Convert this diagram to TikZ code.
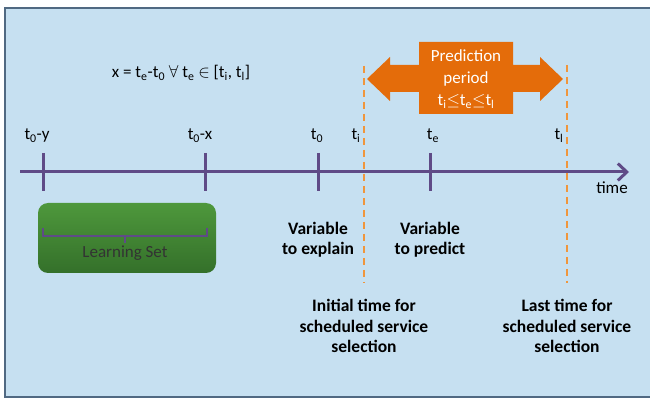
\documentclass[tikz,border=0pt]{standalone}
\usepackage{fontspec}
\setmainfont{Carlito}
\usetikzlibrary{arrows.meta,positioning,shadings}
\definecolor{panel}{RGB}{198,224,241}
\definecolor{framecol}{RGB}{80,105,130}
\definecolor{axiscol}{RGB}{95,75,135}
\definecolor{periodcol}{RGB}{228,108,10}
\definecolor{limitcol}{RGB}{240,150,60}
\definecolor{setgreen}{RGB}{78,152,60}
\definecolor{setdark}{RGB}{52,112,42}
\tikzset{x=1pt, y=1pt, % one unit is one pixel of the picture
timeline/.style={line width=3pt, draw=axiscol, -{Straight Barb[length=9pt,width=17pt]}}, % the time axis
tickmark/.style={line width=3pt, draw=axiscol}, % marks on the axis
limitline/.style={line width=2pt, draw=limitcol, dash pattern=on 7pt off 5pt}, % borders of the prediction period
lbl/.style={inner sep=0pt, font=\fontsize{17}{20.5}\selectfont}, % plain text
note/.style={inner sep=0pt, align=center, font=\fontsize{17.5}{20.5}\selectfont\bfseries}, % bold captions
}
\begin{document}
\begin{tikzpicture}
\useasboundingbox (0,0) rectangle (650,399);
\fill[panel] (5,2) rectangle (651,391);
\draw[framecol, line width=1.2pt] (651,391) -- (5,391) -- (5,2) -- (651,2);

% axis and its marks
\coordinate (start) at (20,227);
\coordinate (stop) at (629,227);
\draw[timeline] (start) -- (stop);
\node[lbl] (time) at (612,211) {time};
\foreach \name/\x in {ty/43, tx/205, tzero/318, te/430}
  \draw[tickmark] (\x,246) coordinate (\name) -- (\x,208);
\node[lbl, anchor=base] (lty) at (37,259) {t\textsubscript{0}-y};
\node[lbl, anchor=base] (ltx) at (200,259) {t\textsubscript{0}-x};
\node[lbl, anchor=base] (ltzero) at (317,259) {t\textsubscript{0}};
\node[lbl, anchor=base] (lti) at (356,259) {t\textsubscript{i}};
\node[lbl, anchor=base] (lte) at (433,259) {t\textsubscript{e}};
\node[lbl, anchor=base] (ltl) at (559,259) {t\textsubscript{l}};

% prediction period
\coordinate (itop) at (364,333);
\coordinate (ibot) at (364,116);
\coordinate (ltop) at (567,334);
\coordinate (lbot) at (567,116);
\draw[limitline] (itop) -- (ibot);
\draw[limitline] (ltop) -- (lbot);
\fill[periodcol] (367,320) -- (390,342) -- (390,334) -- (419,334) -- (419,357) -- (513,357)
  -- (513,334) -- (540,334) -- (540,342) -- (563,320) -- (540,298) -- (540,307) -- (513,307)
  -- (513,285) -- (419,285) -- (419,307) -- (390,307) -- (390,298) -- cycle;
\node[lbl, white, align=center, font=\fontsize{17}{22}\selectfont] (period) at (466,320)
  {Prediction\\period\\t\textsubscript{i}$\leq$t\textsubscript{e}$\leq$t\textsubscript{l}};
\node[lbl] (formula) at (181,326)
  {x = t\textsubscript{e}-t\textsubscript{0} $\forall$ t\textsubscript{e} $\in$ [t\textsubscript{i}, t\textsubscript{l}]};

% learning set
\shade[top color=setgreen, bottom color=setdark, rounded corners=10pt] (38,196) rectangle (216,126);
\draw[axiscol, line width=2.5pt] (43,171) -- (43,163) -- (207,163) -- (207,171)
  (125,163) -- (125,156);
\node[lbl, text=black!80] (learn) at (125,146) {Learning Set};

% captions
\node[note, below=50pt of tzero|-start] (explain) {Variable\\to explain};
\node[note, below=50pt of te|-start] (predict) {Variable\\to predict};
\node[note, below=16pt of ibot] (initial) {Initial time for\\scheduled service\\selection};
\node[note, below=16pt of lbot] (last) {Last time for\\scheduled service\\selection};
\end{tikzpicture}
\end{document}
